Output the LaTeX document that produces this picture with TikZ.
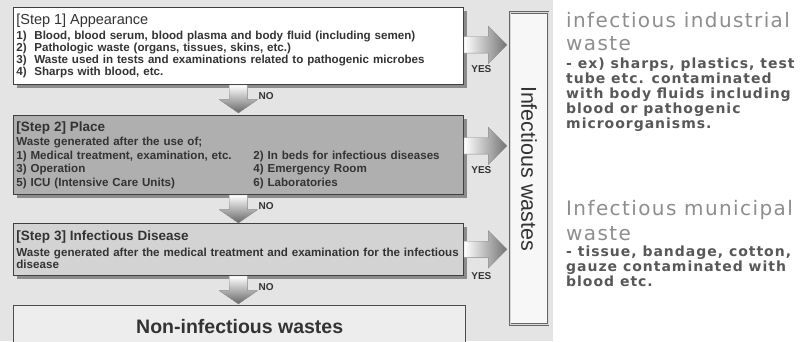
\documentclass[tikz,border=0pt]{standalone}
\usepackage{fontspec}
\setmainfont{Liberation Sans}
\newfontfamily\kofont[LetterSpace=7]{DejaVu Sans}
\usetikzlibrary{shapes.arrows,shadows,positioning}
\definecolor{panel}{HTML}{E4E4E4}
\definecolor{ink}{HTML}{333333}
\definecolor{boxtwo}{HTML}{AFAFAF}
\definecolor{boxthree}{HTML}{D3D3D3}
\definecolor{heading}{HTML}{8E8E8E}
\definecolor{bodytxt}{HTML}{585858}

\begin{document}
\begin{tikzpicture}[x=1pt, y=-1pt,
  stepbox/.style={draw=black!75, line width=0.8pt, anchor=north west, text width=444pt, align=left,
    inner xsep=3pt, inner ysep=0pt, text=ink, font=\bfseries\fontsize{11.6}{12}\selectfont,
    drop shadow={shadow xshift=4pt, shadow yshift=-4pt, fill=black!45, opacity=1}},
  rarrow/.style={single arrow, single arrow head extend=10.5pt, minimum height=43pt, minimum width=37pt,
    inner sep=8pt, anchor=tail, draw=black!45, line width=0.4pt, left color=white, right color=black!55},
  darrow/.style={single arrow, shape border rotate=270, single arrow tip angle=110, single arrow head extend=10pt,
    minimum height=28pt, minimum width=38pt, inner sep=9pt, anchor=tail, draw=black!45, line width=0.4pt,
    top color=white, bottom color=black!60},
  lbl/.style={font=\bfseries\fontsize{10}{10}\selectfont, text=ink, inner sep=0pt},
  side/.style={anchor=north west, inner sep=0pt, align=left}]
\useasboundingbox (0,0) rectangle (805,341);
\clip (0,0) rectangle (805,341);
\fill[white] (0,0) rectangle (805,341);
\fill[panel] (0,0) rectangle (553,341);

\node[stepbox, fill=white, minimum height=77pt] (s1) at (13,7) {%
  {\mdseries\fontsize{14.5}{14.5}\selectfont [Step 1] Appearance}\\[3pt]
  \makebox[18pt][l]{1)}Blood, blood serum, blood plasma and body fluid (including semen)\\
  \makebox[18pt][l]{2)}Pathologic waste (organs, tissues, skins, etc.)\\
  \makebox[18pt][l]{3)}Waste used in tests and examinations related to pathogenic microbes\\
  \makebox[18pt][l]{4)}Sharps with blood, etc.};
\node[stepbox, fill=boxtwo, minimum height=79pt, font=\bfseries\fontsize{11.6}{13.5}\selectfont] (s2) at (13,115) {%
  {\fontsize{13.5}{13.5}\selectfont [Step 2] Place}\\[1pt]
  Waste generated after the use of;\\
  \makebox[237pt][l]{1) Medical treatment, examination, etc.}2) In beds for infectious diseases\\
  \makebox[237pt][l]{3) Operation}4) Emergency Room\\
  \makebox[237pt][l]{5) ICU (Intensive Care Units)}6) Laboratories};
\node[stepbox, fill=boxthree, minimum height=52pt, font=\bfseries\fontsize{11.6}{11.5}\selectfont] (s3) at (13,223) {%
  {\fontsize{13.5}{13.5}\selectfont [Step 3] Infectious Disease}\\[5pt]
  Waste generated after the medical treatment and examination for the infectious\\disease};
\node[draw=black!70, line width=1.4pt, fill=black!7, anchor=north west, minimum width=452pt, minimum height=42pt,
  font=\bfseries\fontsize{19.5}{19.5}\selectfont, text=ink] (non) at (13,305) {Non-infectious wastes};

\node[draw=black!60, double=black!15, double distance=1pt, line width=0.8pt, fill=black!3, rotate=-90,
  minimum width=312pt, minimum height=38pt, font=\fontsize{21.5}{21.5}\selectfont, text=ink] (inf) at (529,168.5) {Infectious wastes};

\node[rarrow] (y1) at ([yshift=1pt]s1.east) {};
\node[rarrow] (y2) at ([yshift=9pt]s2.east) {};
\node[rarrow] (y3) at (s3.east) {};
\node[lbl, below=12pt of y1] {YES};
\node[lbl, below=12pt of y2] {YES};
\node[lbl, below=15pt of y3] {YES};

\node[darrow] (n1) at (s1.south) {};
\node[darrow] (n2) at (s2.south) {};
\node[darrow] (n3) at (s3.south) {};
\node[lbl, anchor=west] at ([xshift=20pt]n1.center) {NO};
\node[lbl, anchor=west] at ([xshift=20pt]n2.center) {NO};
\node[lbl, anchor=west] at ([xshift=20pt]n3.center) {NO};

\node[side, text=heading, font=\kofont\fontsize{20}{23}\selectfont] (indh) at (566,12) {infectious industrial\\waste};
\node[side, text=bodytxt, font=\kofont\bfseries\fontsize{14}{15}\selectfont, below=7pt of indh.south west, anchor=north west] (indb)
  {- ex) sharps, plastics, test\\tube etc. contaminated\\with body fluids including\\blood or pathogenic\\microorganisms.};
\node[side, text=heading, font=\kofont\fontsize{20}{25}\selectfont] (munh) at (566,200) {Infectious municipal\\waste};
\node[side, text=bodytxt, font=\kofont\bfseries\fontsize{14}{15}\selectfont, below=5pt of munh.south west, anchor=north west] (munb)
  {- tissue, bandage, cotton,\\gauze contaminated with\\blood etc.};
\end{tikzpicture}
\end{document}
